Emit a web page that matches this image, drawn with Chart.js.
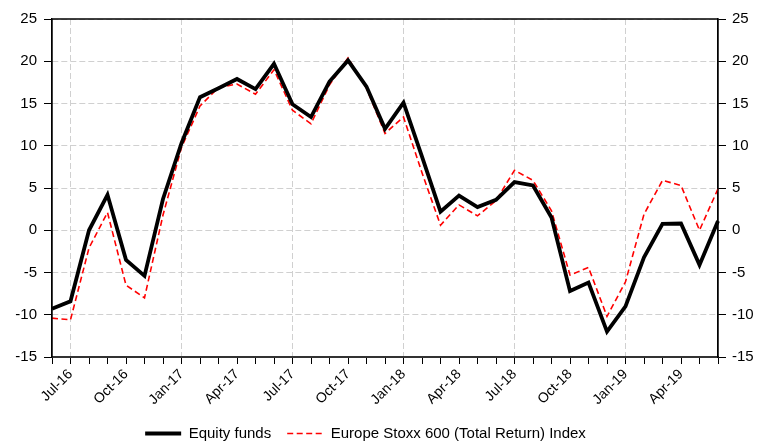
<!DOCTYPE html>
<html>
<head>
<meta charset="utf-8">
<script src="https://cdn.jsdelivr.net/npm/chart.js@4/dist/chart.umd.min.js"></script>
<style>
html,body{margin:0;padding:0;background:#fff;}
#wrap{width:771px;height:442px;}
</style>
</head>
<body>
<div id="wrap"><canvas id="c" width="771" height="442"></canvas></div>
<script>
const months = ["Jun-16","Jul-16","Aug-16","Sep-16","Oct-16","Nov-16","Dec-16",
  "Jan-17","Feb-17","Mar-17","Apr-17","May-17","Jun-17","Jul-17","Aug-17","Sep-17","Oct-17","Nov-17","Dec-17",
  "Jan-18","Feb-18","Mar-18","Apr-18","May-18","Jun-18","Jul-18","Aug-18","Sep-18","Oct-18","Nov-18","Dec-18",
  "Jan-19","Feb-19","Mar-19","Apr-19","May-19","Jun-19"];
const shownTickLabels = ["Jul-16","Oct-16","Jan-17","Apr-17","Jul-17","Oct-17","Jan-18","Apr-18","Jul-18","Oct-18","Jan-19","Apr-19"];
const gridMonths = ["Jul-16","Jan-17","Jul-17","Jan-18","Jul-18","Jan-19"];
const equityFunds = [-9.3,-8.4,0.0,4.2,-3.5,-5.4,3.7,10.3,15.75,16.8,17.9,16.7,19.7,14.9,13.4,17.6,20.1,17.0,12.0,15.1,8.7,2.2,4.1,2.75,3.6,5.7,5.3,1.5,-7.2,-6.2,-12.0,-9.0,-3.2,0.75,0.8,-4.1,1.1];
const stoxx600 = [-10.4,-10.6,-2.1,2.1,-6.5,-8.0,1.8,9.8,14.7,16.9,17.3,16.1,19.0,14.2,12.6,17.2,20.4,16.8,11.45,13.4,6.8,0.6,3.0,1.7,3.5,7.1,5.9,2.3,-5.3,-4.4,-10.2,-6.1,1.9,5.9,5.3,0.0,4.9];
const yMin = -15, yMax = 25, yStep = 5;

const FONT = "'Liberation Sans', Arial, sans-serif";

const framePlugin = {
  id: 'frame',
  afterLayout(chart) {
    const lg = chart.legend;
    if (lg) { lg.left -= 20; lg.right -= 20; }
  },
  afterDatasetsDraw(chart) {
    const {ctx, chartArea: a} = chart;
    ctx.save();
    ctx.strokeStyle = '#000';
    ctx.lineWidth = 1.3;
    ctx.beginPath();
    ctx.moveTo(a.left, a.bottom);
    ctx.lineTo(a.left, a.top);
    ctx.lineTo(a.right, a.top);
    ctx.lineTo(a.right, a.bottom);
    ctx.stroke();
    ctx.restore();
  }
};

new Chart(document.getElementById('c'), {
  type: 'line',
  data: {
    labels: months,
    datasets: [
      {label: 'Equity funds', data: equityFunds, borderColor: '#000', backgroundColor: '#000',
       borderWidth: 3.8, pointRadius: 0, tension: 0, yAxisID: 'y', borderJoinStyle: 'miter'},
      {label: 'Europe Stoxx 600 (Total Return) Index', data: stoxx600, borderColor: '#ff0000', backgroundColor: '#ff0000',
       borderWidth: 1.6, borderDash: [6, 3.5], pointRadius: 0, tension: 0, yAxisID: 'y'}
    ]
  },
  options: {
    responsive: false,
    animation: false,
    devicePixelRatio: 1,
    layout: {padding: {top: 19, left: 0, right: 0, bottom: -9}},
    plugins: {
      tooltip: {enabled: false},
      legend: {
        position: 'bottom',
        labels: {
          usePointStyle: true, pointStyle: 'line', pointStyleWidth: 36,
          color: '#000', font: {family: FONT, size: 15}, padding: 16, boxHeight: 13,
          generateLabels(chart) {
            const items = Chart.defaults.plugins.legend.labels.generateLabels(chart);
            items.forEach((it) => {
              const ds = chart.data.datasets[it.datasetIndex];
              it.lineDash = ds.borderDash || [];
              it.lineWidth = ds.borderWidth;
              it.strokeStyle = ds.borderColor;
              it.fillStyle = ds.borderColor;
              it.pointStyle = 'line';
            });
            return items;
          }
        }
      }
    },
    scales: {
      x: {
        type: 'category',
        offset: false,
        grid: {
          color: (ctx) => gridMonths.includes(months[ctx.index]) ? '#d0d0d0' : 'rgba(0,0,0,0)',
          lineWidth: 1, drawTicks: true, tickLength: 7, tickColor: '#000', tickWidth: 1, tickBorderDash: []
        },
        border: {display: true, color: '#333', width: 2, dash: [6, 3]},
        ticks: {
          autoSkip: false, maxRotation: 45, minRotation: 45, padding: 2,
          color: '#000', font: {family: FONT, size: 14},
          callback: function(v, i) { const l = months[i]; return shownTickLabels.includes(l) ? l : ''; }
        },
        afterFit: (s) => { s.height = 53; }
      },
      y: {
        position: 'left', min: yMin, max: yMax,
        ticks: {stepSize: yStep, color: '#000', font: {family: FONT, size: 15}, padding: 7},
        grid: {color: '#d0d0d0', lineWidth: 1, tickLength: 8, tickColor: '#000', tickBorderDash: []},
        border: {display: true, color: '#000', width: 1.3, dash: [6, 3]},
        afterFit: (s) => { s.width = 52; }
      },
      y2: {
        position: 'right', min: yMin, max: yMax,
        ticks: {stepSize: yStep, color: '#000', font: {family: FONT, size: 15}, padding: 6},
        grid: {drawOnChartArea: false, tickLength: 8, tickColor: '#000', tickBorderDash: []},
        border: {display: true, color: '#000', width: 1.3},
        afterFit: (s) => { s.width = 53; }
      }
    }
  },
  plugins: [framePlugin]
});
</script>
</body>
</html>
